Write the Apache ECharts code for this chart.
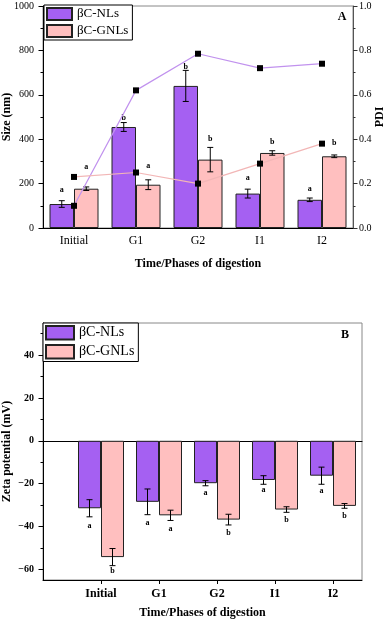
<!DOCTYPE html>
<html lang="en">
  <head>
    <meta charset="UTF-8">
    <title>Size, PDI and zeta potential</title>
    <script src="https://cdn.jsdelivr.net/npm/echarts@6/dist/echarts.min.js"></script>
    <style>
      html, body { margin: 0; padding: 0; background: #fff; }
      #chart { width: 387px; height: 623px; }
    </style>
  </head>
  <body>
    <div id="chart"></div>
  </body>
  <script>
    // ---------- data ----------
    const categories = ['Initial', 'G1', 'G2', 'I1', 'I2']
    const seriesNames = ['βC-NLs', 'βC-GNLs']

    // A: particle size (nm) + error
    const sizeNL = [108, 455, 640, 155, 127]
    const sizeNLErr = [15, 20, 70, 20, 8]
    const sizeGNL = [177, 195, 308, 338, 323]
    const sizeGNLErr = [8, 22, 55, 10, 6]
    const sizeNLLetters = ['a', 'b', 'b', 'a', 'a']
    const sizeNLLetterY = [170, 498, 725, 224, 176]
    const sizeGNLLetters = ['a', 'a', 'b', 'b', 'b']
    const sizeGNLLetterY = [273, 281, 399, 386, 381]

    // A: PDI (right axis)
    const pdiNL = [0.10, 0.62, 0.785, 0.72, 0.74]
    const pdiGNL = [0.23, 0.25, 0.20, 0.29, 0.38]

    // B: zeta potential (mV) + error
    const zetaNL = [-31.5, -28.5, -19.8, -18.3, -16.3]
    const zetaNLErr = [4, 6, 1.2, 2, 4]
    const zetaGNL = [-54.3, -34.8, -36.8, -32.1, -30.4]
    const zetaGNLErr = [4, 2.4, 2.5, 1.3, 1.1]
    const zetaNLLetters = ['a', 'a', 'a', 'a', 'a']
    const zetaNLLetterY = [-39.7, -38.3, -24.3, -23, -23.5]
    const zetaGNLLetters = ['b', 'a', 'b', 'b', 'b']
    const zetaGNLLetterY = [-60.6, -41, -43, -36.8, -35]

    // ---------- styles ----------
    const serif = '"Liberation Serif", "Times New Roman", serif'
    const purple = '#a560f2'
    const pink = '#ffbfbf'
    const barBorder = { borderColor: '#222', borderWidth: 1 }
    const topBarW = 24.5
    const botBarW = 23
    const nameStyle = { fontFamily: serif, fontSize: 12, fontWeight: 'bold', color: '#000' }

    // error bar + significance letter drawn for every bar
    function errorItem(means, errs, letters, letterY, dx) {
      return function (params, api) {
        const i = params.dataIndex
        const x = api.coord([api.value(0), means[i]])[0] + dx
        const hi = api.coord([api.value(0), means[i] + errs[i]])[1]
        const lo = api.coord([api.value(0), means[i] - errs[i]])[1]
        const ty = api.coord([api.value(0), letterY[i]])[1]
        const s = { stroke: '#000', lineWidth: 1 }
        return {
          type: 'group',
          children: [
            { type: 'line', shape: { x1: x, y1: hi, x2: x, y2: lo }, style: s },
            { type: 'line', shape: { x1: x - 3, y1: hi, x2: x + 3, y2: hi }, style: s },
            { type: 'line', shape: { x1: x - 3, y1: lo, x2: x + 3, y2: lo }, style: s },
            {
              type: 'text', x: x, y: ty,
              style: { text: letters[i], fill: '#000', font: 'bold 8px ' + serif, align: 'center', verticalAlign: 'middle' }
            }
          ]
        }
      }
    }

    const idx = categories.map((c, i) => i)

    const option = {
      animation: false,
      backgroundColor: '#fff',
      textStyle: { fontFamily: serif, color: '#000' },
      grid: [
        { left: 43, top: 6, width: 310, height: 222, show: true, borderColor: '#888', borderWidth: 1, outerBoundsMode: 'none', containLabel: false },
        { left: 43, top: 323, width: 319, height: 257, show: true, borderColor: '#888', borderWidth: 1, outerBoundsMode: 'none', containLabel: false }
      ],
      legend: [
        {
          left: 44, top: 5, orient: 'vertical', data: seriesNames,
          itemWidth: 25, itemHeight: 12, itemGap: 3, padding: [2, 4, 2, 2],
          borderColor: '#000', borderWidth: 1, backgroundColor: '#fff', icon: 'rect',
          textStyle: { fontFamily: serif, fontSize: 13, color: '#000' }
        },
        {
          left: 43, top: 323, orient: 'vertical', data: seriesNames,
          itemWidth: 28, itemHeight: 13.5, itemGap: 3.5, padding: [2, 4, 2, 2],
          borderColor: '#000', borderWidth: 1, backgroundColor: '#fff', icon: 'rect',
          textStyle: { fontFamily: serif, fontSize: 14, color: '#000' }
        }
      ],
      xAxis: [
        {
          type: 'category', gridIndex: 0, data: categories,
          name: 'Time/Phases of digestion', nameLocation: 'middle', nameGap: 30, nameMoveOverlap: false,
          nameTextStyle: nameStyle,
          axisLine: { lineStyle: { color: '#000' } },
          axisTick: { alignWithLabel: true, length: 4, lineStyle: { color: '#000' } },
          axisLabel: { fontFamily: serif, fontSize: 12, color: '#000', margin: 7 }
        },
        {
          type: 'category', gridIndex: 0, data: categories,
          axisLine: { show: false },
          axisTick: { length: 4, lineStyle: { color: '#000' } },
          axisLabel: { show: false }
        },
        {
          type: 'value', gridIndex: 1, min: -1, max: 4.5,
          name: 'Time/Phases of digestion', nameLocation: 'middle', nameGap: 27, nameMoveOverlap: false,
          nameTextStyle: nameStyle,
          splitLine: { show: false },
          axisLine: { onZero: false, lineStyle: { color: '#000' } },
          axisTick: { customValues: idx, length: 4, lineStyle: { color: '#000' } },
          axisLabel: {
            customValues: idx, formatter: v => categories[Math.round(v)],
            fontFamily: serif, fontSize: 12, fontWeight: 'bold', color: '#000', margin: 8
          }
        },
        {
          // zero line across plot B
          type: 'value', gridIndex: 1, min: -1, max: 4.5,
          splitLine: { show: false },
          axisLine: { onZero: true, lineStyle: { color: '#000' } },
          axisTick: { show: false }, axisLabel: { show: false }
        }
      ],
      yAxis: [
        {
          type: 'value', gridIndex: 0, position: 'left', min: 0, max: 1000, interval: 200,
          name: 'Size (nm)', nameLocation: 'middle', nameGap: 30, nameRotate: 90, nameMoveOverlap: false,
          nameTextStyle: nameStyle,
          splitLine: { show: false },
          axisLine: { show: true, lineStyle: { color: '#000' } },
          axisTick: { show: true, length: 4.5, lineStyle: { color: '#000' } },
          minorTick: { show: true, splitNumber: 2, length: 2.5, lineStyle: { color: '#000' } },
          axisLabel: { formatter: v => String(v), fontFamily: serif, fontSize: 10, color: '#000', margin: 9 }
        },
        {
          type: 'value', gridIndex: 0, position: 'right', min: 0, max: 1, interval: 0.2,
          name: 'PDI', nameLocation: 'middle', nameGap: 21, nameRotate: 90, nameMoveOverlap: false,
          nameTextStyle: nameStyle,
          splitLine: { show: false },
          axisLine: { show: true, lineStyle: { color: '#555' } },
          axisTick: { show: true, length: 4.5, lineStyle: { color: '#333' } },
          minorTick: { show: true, splitNumber: 2, length: 2.5, lineStyle: { color: '#333' } },
          axisLabel: { formatter: v => v.toFixed(1), fontFamily: serif, fontSize: 10, color: '#000', margin: 6 }
        },
        {
          type: 'value', gridIndex: 1, position: 'left', min: -65, max: 55,
          name: 'Zeta potential (mV)', nameLocation: 'middle', nameGap: 30, nameRotate: 90, nameMoveOverlap: false,
          nameTextStyle: nameStyle,
          splitLine: { show: false },
          axisLine: { show: true, onZero: false, lineStyle: { color: '#000' } },
          axisTick: { show: true, customValues: [-60, -40, -20, 0, 20, 40], length: 4.5, lineStyle: { color: '#000' } },
          axisLabel: {
            customValues: [-60, -40, -20, 0, 20, 40],
            formatter: v => (v < 0 ? '\u2212' + Math.abs(v) : String(v)),
            fontFamily: serif, fontSize: 10, fontWeight: 'bold', color: '#000', margin: 9
          }
        },
        {
          type: 'value', gridIndex: 1, position: 'left', offset: 0, min: -65, max: 55,
          splitLine: { show: false },
          axisLine: { show: false, onZero: false },
          axisTick: { show: true, customValues: [-50, -30, -10, 10, 30, 50], length: 2.5, lineStyle: { color: '#000' } },
          axisLabel: { show: false }
        }
      ],
      graphic: [
        { type: 'text', x: 342, y: 17, style: { text: 'A', font: 'bold 12px ' + serif, fill: '#000', align: 'center', verticalAlign: 'middle' } },
        { type: 'text', x: 345, y: 335, style: { text: 'B', font: 'bold 12px ' + serif, fill: '#000', align: 'center', verticalAlign: 'middle' } }
      ],
      series: [
        // ----- A -----
        {
          name: seriesNames[0], type: 'bar', xAxisIndex: 0, yAxisIndex: 0,
          data: sizeNL, barWidth: topBarW, barGap: '0%',
          itemStyle: Object.assign({ color: purple }, barBorder)
        },
        {
          name: seriesNames[1], type: 'bar', xAxisIndex: 0, yAxisIndex: 0,
          data: sizeGNL, barWidth: topBarW, barGap: '0%',
          itemStyle: Object.assign({ color: pink }, barBorder)
        },
        {
          type: 'custom', xAxisIndex: 0, yAxisIndex: 0, z: 5,
          data: sizeNL.map((v, i) => [i, v]),
          renderItem: errorItem(sizeNL, sizeNLErr, sizeNLLetters, sizeNLLetterY, -topBarW / 2)
        },
        {
          type: 'custom', xAxisIndex: 0, yAxisIndex: 0, z: 5,
          data: sizeGNL.map((v, i) => [i, v]),
          renderItem: errorItem(sizeGNL, sizeGNLErr, sizeGNLLetters, sizeGNLLetterY, topBarW / 2)
        },
        {
          name: 'PDI NLs', type: 'line', xAxisIndex: 0, yAxisIndex: 1, z: 6,
          data: pdiNL, symbol: 'rect', symbolSize: 6,
          itemStyle: { color: '#000' }, lineStyle: { color: '#c192ee', width: 1.2 }
        },
        {
          name: 'PDI GNLs', type: 'line', xAxisIndex: 0, yAxisIndex: 1, z: 6,
          data: pdiGNL, symbol: 'rect', symbolSize: 6,
          itemStyle: { color: '#000' }, lineStyle: { color: '#f2b6b6', width: 1.2 }
        },
        // ----- B -----
        {
          name: seriesNames[0], type: 'bar', xAxisIndex: 2, yAxisIndex: 2,
          data: zetaNL.map((v, i) => [i, v]), barWidth: botBarW, barGap: '0%',
          itemStyle: Object.assign({ color: purple }, barBorder)
        },
        {
          name: seriesNames[1], type: 'bar', xAxisIndex: 2, yAxisIndex: 2,
          data: zetaGNL.map((v, i) => [i, v]), barWidth: botBarW, barGap: '0%',
          itemStyle: Object.assign({ color: pink }, barBorder)
        },
        {
          type: 'custom', xAxisIndex: 2, yAxisIndex: 2, z: 5,
          data: zetaNL.map((v, i) => [i, v]),
          renderItem: errorItem(zetaNL, zetaNLErr, zetaNLLetters, zetaNLLetterY, -botBarW / 2)
        },
        {
          type: 'custom', xAxisIndex: 2, yAxisIndex: 2, z: 5,
          data: zetaGNL.map((v, i) => [i, v]),
          renderItem: errorItem(zetaGNL, zetaGNLErr, zetaGNLLetters, zetaGNLLetterY, botBarW / 2)
        }
      ]
    }

    echarts.init(document.getElementById('chart'), null, { renderer: 'canvas' }).setOption(option)
  </script>
</html>
